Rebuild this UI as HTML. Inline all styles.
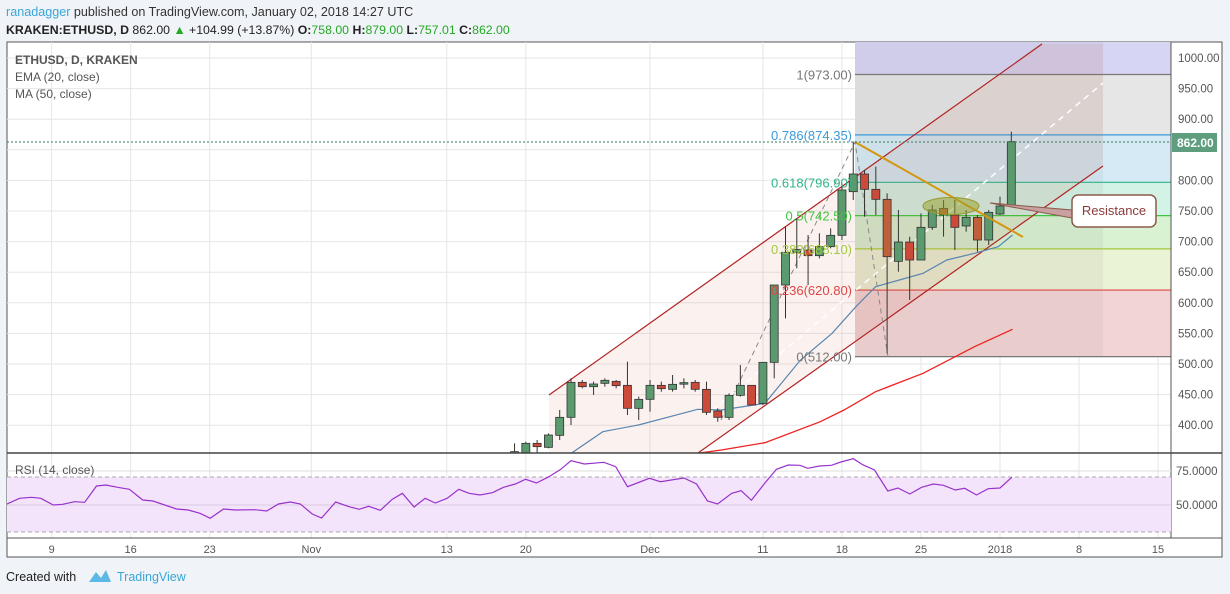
<!DOCTYPE html>
<html><head><meta charset="utf-8"><style>
body{margin:0;width:1230px;height:594px;background:#f0f3f7;overflow:hidden;font-family:"Liberation Sans",sans-serif}
svg{position:absolute;left:0;top:0}
</style></head><body>
<svg id="s" width="1230" height="594" xmlns="http://www.w3.org/2000/svg" font-family="Liberation Sans, sans-serif"></svg>
<script>
const S=document.getElementById('s');let h='';
const P=p=>58+(1000-p)*0.612;
const X=d=>1000+d*11.29;
// header
h+=`<text x="6" y="16" font-size="12.6" fill="#333"><tspan fill="#3aa6d8">ranadagger</tspan> published on TradingView.com, January 02, 2018 14:27 UTC</text>`;
h+=`<text x="6" y="34" font-size="12.3" fill="#222"><tspan font-weight="bold">KRAKEN:ETHUSD, D</tspan> 862.00 <tspan fill="#22aa22">▲</tspan> +104.99 (+13.87%) <tspan font-weight="bold">O:</tspan><tspan fill="#22aa22">758.00</tspan> <tspan font-weight="bold">H:</tspan><tspan fill="#22aa22">879.00</tspan> <tspan font-weight="bold">L:</tspan><tspan fill="#22aa22">757.01</tspan> <tspan font-weight="bold">C:</tspan><tspan fill="#22aa22">862.00</tspan></text>`;
// chart bg
h+=`<rect x="7" y="42" width="1215" height="515" fill="#fff" stroke="#555" stroke-width="1"/>`;
h+=`<defs><clipPath id="m"><rect x="7" y="42" width="1164" height="411"/></clipPath><clipPath id="r"><rect x="7" y="453" width="1164" height="85"/></clipPath></defs>`;
// grid
const dates=[[-84,'9'],[-77,'16'],[-70,'23'],[-61,'Nov'],[-49,'13'],[-42,'20'],[-31,'Dec'],[-21,'11'],[-14,'18'],[-7,'25'],[0,'2018'],[7,'8'],[14,'15']];
for(const [d] of dates){h+=`<line x1="${X(d)}" y1="42" x2="${X(d)}" y2="538" stroke="#e6e6e6"/>`;}
for(let p=400;p<=1000;p+=50){h+=`<line x1="7" y1="${P(p)}" x2="1171" y2="${P(p)}" stroke="#e6e6e6"/>`;}
h+=`<g clip-path="url(#m)">`;
// fib fills
const fl=[[1100,973,'#d7d5f4'],[973,874.35,'#e6e6e6'],[874.35,796.9,'#d5eaf5'],[796.9,742.5,'#d3f3e6'],[742.5,688.1,'#d8f2d2'],[688.1,620.8,'#ebf3d6'],[620.8,512,'#f3d4d4']];
for(const [a,b,c] of fl){h+=`<rect x="855" y="${P(a)}" width="316" height="${P(b)-P(a)}" fill="${c}"/>`;}
h+=`<rect x="855" y="42" width="248" height="${P(512)-42}" fill="rgba(120,100,100,0.07)"/>`;
const lv=[[973,'#777','1(973.00)'],[874.35,'#3a9ad9','0.786(874.35)'],[796.9,'#2eb48a','0.618(796.90)'],[742.5,'#3ec63e','0.5(742.50)'],[688.1,'#a4c83c','0.382(688.10)'],[620.8,'#e04545','0.236(620.80)'],[512,'#777','0(512.00)']];
for(const [p,c,t] of lv){h+=`<line x1="855" y1="${P(p)}" x2="1171" y2="${P(p)}" stroke="${c}" stroke-width="1.2"/>`;}
// channel
h+=`<polygon points="549,395 1042,44 1103,44 1103,166 698,453 549,453" fill="rgba(200,90,70,0.08)"/>`;
h+=`<line x1="549" y1="395" x2="1042" y2="44" stroke="#b22222" stroke-width="1.2"/><line x1="698" y1="453" x2="1103" y2="166" stroke="#b22222" stroke-width="1.2"/>`;
// dashed
h+=`<polyline points="721,420 855,142 888,357" fill="none" stroke="#888" stroke-dasharray="5,4"/>`;
h+=`<line x1="713" y1="410" x2="1103" y2="83" stroke="#fff" stroke-width="1.5" stroke-dasharray="6,5"/>`;
// MA / EMA
const cv=(a)=>a.map(([x,y])=>`${(500+x/2.529).toFixed(1)},${(120+y/3).toFixed(1)}`).join(' ');
h+=`<polyline points="697,453 ${cv([[500,1000],[560,990],[670,968],[810,905],[870,870],[950,815],[1070,760],[1200,680],[1296,628]])}" fill="none" stroke="#f02020" stroke-width="1.3"/>`;
h+=`<polyline points="570,453 ${cv([[180,1000],[260,935],[350,915],[500,868],[560,870],[670,850],[760,720],[840,640],[900,560],[950,500],[1010,480],[1070,460],[1130,420],[1200,400],[1260,380],[1296,345]])}" fill="none" stroke="#5a86b0" stroke-width="1.2"/>`;
const C=[['g',995,1000,970,1000],['g',970,998,965,1000],['r',970,980,960,1000],['g',945,982,940,985],['g',892,946,870,960],['g',787,892,775,915],['r',787,800,780,805],['g',792,800,785,825],['g',781,790,775,800],['r',784,797,780,805],['r',796,865,725,885],['g',838,865,830,900],['g',796,838,780,875],['r',796,806,785,815],['g',793,808,765,815],['g',788,792,775,805],['r',787,808,780,815],['r',808,877,785,885],['r',873,892,865,905],['g',826,892,820,900],['g',796,826,735,830],['r',796,855,796,855],['g',727,850,727,855],['g',495,727,495,775],['g',397,495,320,595],['g',388,397,295,445],['r',390,407,345,495],['g',380,407,340,415],['g',346,380,325,385],['g',210,346,190,360],['g',162,215,65,240],['r',162,208,150,290],['r',208,238,140,285],['o',238,410,220,700],['g',366,424,270,455],['r',366,420,350,540],['g',322,420,280,420],['g',270,322,255,330],['o',265,285,240,350],['r',285,322,240,390],['g',292,318,270,335],['o',292,360,285,395],['g',277,360,270,375],['g',258,282,230,285],['g',65,256,35,256]];
const col={g:'#5b9a6e',r:'#cc4a3a',o:'#c0603a'};
C.forEach((c,i)=>{const x=1011.3-(44-i)*11.29;const Y=v=>120+v/3;
h+=`<line x1="${x}" y1="${Y(c[3])}" x2="${x}" y2="${Y(c[4])}" stroke="#333"/>`;
h+=`<rect x="${x-4}" y="${Y(c[1])}" width="8" height="${Math.max(1.5,Y(c[2])-Y(c[1]))}" fill="${col[c[0]]}" stroke="#333" stroke-width="0.8"/>`;});
h+=`<line x1="855" y1="142" x2="1023" y2="237" stroke="#d4960f" stroke-width="2"/>`;
h+=`<ellipse cx="951" cy="206" rx="28" ry="8.5" fill="rgba(150,160,40,0.5)" stroke="#9a9a30"/>`;
h+=`<polygon points="990,203 1072,210 1072,218" fill="#c9a0a0" stroke="#8b5a4a"/>`;
h+=`<rect x="1072" y="195" width="84" height="32" rx="6" fill="#fff" stroke="#8b5a4a" stroke-width="1.5"/>`;
h+=`<text x="1114" y="215" font-size="13" fill="#8b3a3a" text-anchor="middle">Resistance</text>`;
h+=`<line x1="7" y1="142" x2="1171" y2="142" stroke="#3a7a5a" stroke-dasharray="2,2"/>`;
h+=`</g>`;
for(const [p,c,t] of lv){h+=`<text x="852" y="${P(p)+5}" font-size="13" fill="${c}" text-anchor="end">${t}</text>`;}
h+=`<text x="15" y="64" font-size="12" fill="#555" font-weight="bold">ETHUSD, D, KRAKEN</text><text x="15" y="81" font-size="12" fill="#555">EMA (20, close)</text><text x="15" y="98" font-size="12" fill="#555">MA (50, close)</text>`;
h+=`<line x1="1171" y1="42" x2="1171" y2="538" stroke="#555"/>`;
for(let p=400;p<=1000;p+=50){if(p==850)continue;h+=`<text x="1178" y="${P(p)+4}" font-size="11.5" fill="#555">${p}.00</text>`;}
h+=`<rect x="1172" y="133" width="45" height="19" fill="#5e9e7e"/><text x="1177" y="147" font-size="12" font-weight="bold" fill="#fff">862.00</text>`;
h+=`<line x1="7" y1="453" x2="1222" y2="453" stroke="#444" stroke-width="1.5"/>`;
h+=`<rect x="7" y="477" width="1164" height="55" fill="#f4e4fb"/>`;
h+=`<line x1="7" y1="471" x2="1171" y2="471" stroke="#ddd"/><line x1="7" y1="505" x2="1171" y2="505" stroke="#d8c8e0"/>`;
h+=`<line x1="7" y1="477" x2="1171" y2="477" stroke="#aaa" stroke-dasharray="4,3"/><line x1="7" y1="532" x2="1171" y2="532" stroke="#aaa" stroke-dasharray="4,3"/>`;
const R=[[8,193],[25,175],[40,172],[52,175],[68,195],[80,193],[95,185],[108,187],[123,138],[135,135],[150,142],[165,148],[182,180],[195,183],[225,207],[240,210],[255,220],[268,235],[285,207],[300,210],[325,209],[340,213],[355,192],[370,186],[383,192],[398,222],[410,234],[428,186],[445,200],[458,208],[470,199],[485,211],[500,178],[513,160],[528,201],[542,175],[555,189],[570,175],[585,148],[598,160],[612,165],[628,158],[642,142],[657,132],[670,118],[684,129],[700,110],[715,88],[728,62],[745,72],[770,67],[785,80],[800,140],[828,115],[842,125],[872,114],[888,132],[902,183],[915,192],[933,160],[945,152],[958,181],[975,130],[990,88],[1005,75],[1020,76],[1030,85],[1045,78],[1060,76],[1072,66],[1088,56],[1100,74],[1115,90],[1132,153],[1145,144],[1160,162],[1175,142],[1190,132],[1203,136],[1218,150],[1230,145],[1245,165],[1260,146],[1275,144],[1290,112]];
h+=`<polyline clip-path="url(#r)" points="${R.map(([x,y])=>(x/1.275).toFixed(1)+','+(440+y/3).toFixed(1)).join(' ')}" fill="none" stroke="#9932cc" stroke-width="1.2"/>`;
h+=`<text x="15" y="474" font-size="12" fill="#555">RSI (14, close)</text>`;
h+=`<text x="1176" y="475" font-size="11.5" fill="#555">75.0000</text><text x="1176" y="509" font-size="11.5" fill="#555">50.0000</text>`;
h+=`<line x1="7" y1="538" x2="1222" y2="538" stroke="#555"/>`;
for(const [d,t] of dates){h+=`<text x="${X(d)}" y="553" font-size="11" fill="#555" text-anchor="middle">${t}</text>`;}
h+=`<text x="6" y="581" font-size="12.5" fill="#222">Created with</text>`;
h+=`<path d="M89,582 L96,572 L101,578 L106,570 L111,582 Z" fill="#5cb8e6"/>`;
h+=`<text x="117" y="581" font-size="12.5" fill="#3aa6d8">TradingView</text>`;
S.innerHTML=h;
</script>
</body></html>
